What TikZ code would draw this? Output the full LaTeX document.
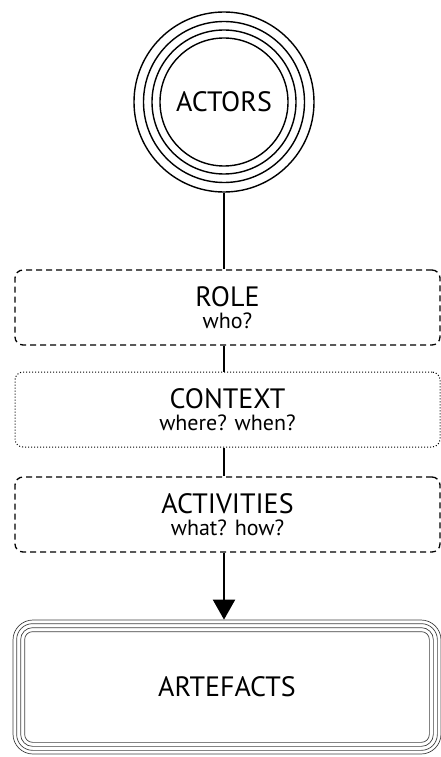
\documentclass[tikz,border=0pt]{standalone}
\usepackage{fontspec}
\setmainfont{PT Sans}
\usetikzlibrary{arrows.meta}
\tikzset{hub/.style = {shape = circle, draw, line width = 1.4pt, minimum size = 180pt, inner sep = 0pt, font = \fontsize{28}{30}\selectfont}}
\tikzset{ring/.style = {line width = 1.4pt}}
\tikzset{stage/.style = {shape = rectangle, draw, rounded corners = 8pt, line width = 1.3pt, minimum width = 425pt, minimum height = 75pt, align = center, font = \fontsize{28}{30}\selectfont}}
\tikzset{dashbox/.style = {stage, dash pattern = on 6pt off 4pt}}
\tikzset{dotbox/.style = {stage, line width = 1pt, dash pattern = on 1pt off 2pt}}
\tikzset{outcome/.style = {shape = rectangle, draw = black!75, rounded corners = 20pt, line width = 0.7pt, minimum width = 428pt, minimum height = 134pt, font = \fontsize{28}{30}\selectfont}}
\tikzset{frame/.style = {draw = black!75, line width = 0.7pt}}
\tikzset{edge/.style = {line width = 1.5pt}}
\tikzset{flow/.style = {line width = 2pt, -{Triangle[width = 22pt, length = 20pt]}}}
\newcommand{\subq}[1]{{\fontsize{22}{24}\selectfont #1}}

\begin{document}
\begin{tikzpicture}[x = 1pt, y = -1pt]
	\useasboundingbox (0, 0) rectangle (441, 757);

	\node[hub] (actors) at (224, 102) {ACTORS};
	\foreach \r in {80.5, 72, 64}
		\draw[ring] (actors.center) circle (\r pt);

	\node[dashbox] (role) at (227.5, 307.5) {ROLE\\[-8pt]\subq{who?}};
	\node[dotbox] (context) at (227.5, 409.5) {CONTEXT\\[-8pt]\subq{where? when?}};
	\node[dashbox] (activities) at (227.5, 514.5) {ACTIVITIES\\[-8pt]\subq{what? how?}};

	\node[outcome] (artefacts) at (227, 687) {ARTEFACTS};
	\foreach \d/\c in {4/16, 8/12, 12/8}
		\draw[frame, rounded corners = \c pt] ([shift = {(\d pt, -\d pt)}]artefacts.north west) rectangle ([shift = {(-\d pt, \d pt)}]artefacts.south east);

	\draw[edge] (actors) -- (actors |- role.north);
	\draw[edge] (role.south -| actors) -- (context.north -| actors);
	\draw[edge] (context.south -| actors) -- (activities.north -| actors);
	\draw[flow] (activities.south -| actors) -- (artefacts.north -| actors);
\end{tikzpicture}
\end{document}
